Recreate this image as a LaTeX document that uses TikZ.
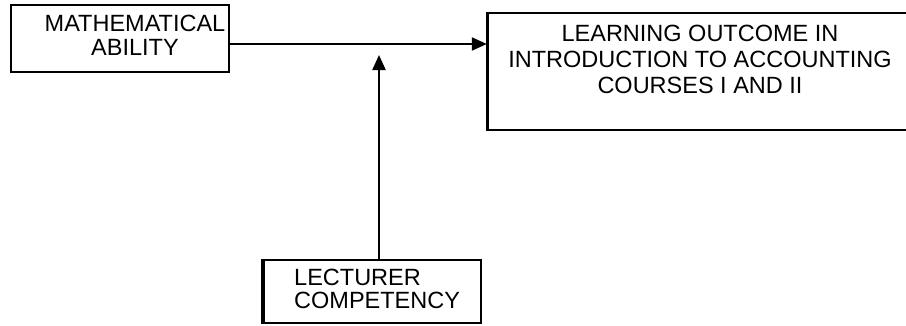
\documentclass[tikz,border=0pt]{standalone}
\usepackage{fontspec}
\setmainfont{Liberation Sans}
\usetikzlibrary{arrows.meta}
\begin{document}
\begin{tikzpicture}[x=1pt,y=-1pt,
  boxstyle/.style={draw=black,line width=2.4pt,rectangle,inner sep=0pt},
  txt/.style={font=\fontsize{23.5}{24}\selectfont,inner sep=0pt,anchor=center},
  arr/.style={line width=2.2pt,-{Triangle[length=15pt,width=13pt]}}]
\useasboundingbox[fill=white] (0,0) rectangle (906,325);
% boxes
\node[boxstyle,minimum width=218pt,minimum height=67pt] (math) at (120,38.5) {};
\node[boxstyle,minimum width=422pt,minimum height=117pt] (learn) at (699,71.5) {};
\node[boxstyle,minimum width=218pt,minimum height=63pt] (lect) at (372,291.5) {};
% thicker left edges
\draw[line width=3.5pt] ([xshift=0.5pt]learn.north west) -- ([xshift=0.5pt]learn.south west);
\draw[line width=4pt] ([xshift=0.8pt]lect.north west) -- ([xshift=0.8pt]lect.south west);
% texts
\node[txt,align=center] (mtxt) at (135,35.5) {MATHEMATICAL\\ABILITY};
\node[txt,align=center,font=\fontsize{23.5}{26}\selectfont] (ltxt) at (700,59.5) {LEARNING OUTCOME IN\\INTRODUCTION TO ACCOUNTING\\COURSES I AND II};
\node[txt,align=left,anchor=west,font=\fontsize{23.5}{23}\selectfont] (ctxt) at (294,288.5) {LECTURER\\COMPETENCY};
% connectors
\coordinate (h) at (0,44);
\coordinate (vt) at (379,55);
\draw[arr] (math.east |- h) -- (learn.west |- h);
\draw[arr] (vt |- lect.north) -- (vt);
\end{tikzpicture}
\end{document}
